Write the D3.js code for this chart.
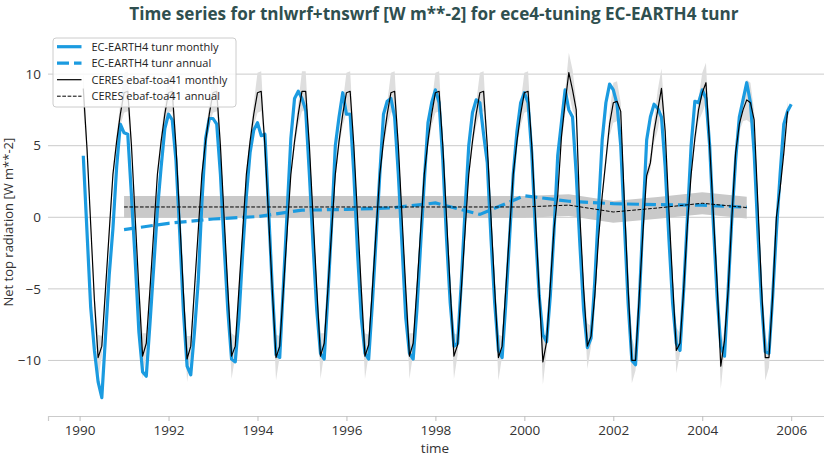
<!DOCTYPE html>
<html>
<head>
<meta charset="utf-8">
<script src="https://cdn.jsdelivr.net/npm/d3@7"></script>
<style>
  body { margin: 0; background: #fff; }
  text { font-family: "Open Sans", "Noto Sans", sans-serif; }
</style>
</head>
<body>
<div id="chart"></div>
<script>
// ---- data ----
const years = [1990, 1991, 1992, 1993, 1994, 1995, 1996, 1997,
               1998, 1999, 2000, 2001, 2002, 2003, 2004, 2005];

// EC-EARTH4 tunr monthly, Jan..Dec for each year
const modelMonthly = [
  [4.3, -1.0, -6.3, -9.3, -11.5, -12.6, -8.3, -4.0, -0.8, 3.5, 6.5, 5.9],
  [5.8, 1.5, -3.0, -8.0, -10.8, -11.1, -7.4, -3.5, 0.5, 3.5, 6.2, 7.2],
  [6.8, 4.0, -1.0, -6.5, -10.4, -11.0, -8.0, -4.5, 1.0, 5.5, 6.9, 6.9],
  [6.5, 3.0, -2.0, -6.5, -9.9, -10.1, -7.0, -2.5, 1.5, 4.5, 6.1, 6.6],
  [5.7, 5.8, 0.5, -5.0, -9.6, -9.8, -4.7, 0.4, 5.5, 8.3, 8.8, 8.3],
  [7.5, 3.0, -2.0, -6.5, -9.5, -9.9, -5.5, -0.5, 5.0, 7.0, 8.7, 7.2],
  [7.2, 3.0, -2.5, -7.0, -9.5, -9.9, -6.0, -1.5, 3.0, 7.2, 8.1, 8.3],
  [7.0, 3.0, -2.0, -7.0, -9.5, -9.9, -6.5, -2.0, 2.5, 6.6, 8.0, 8.9],
  [8.0, 4.0, -1.5, -6.0, -9.0, -8.8, -4.5, 0.5, 5.0, 7.3, 8.2, 8.0],
  [5.8, 3.8, -1.5, -6.0, -9.3, -9.8, -6.0, -1.5, 3.0, 6.0, 8.0, 8.7],
  [8.0, 4.5, -1.0, -5.5, -8.2, -8.7, -5.5, -1.0, 4.3, 6.6, 8.9, 7.5],
  [7.0, 3.0, -2.0, -6.5, -9.1, -8.45, -4.5, 0.5, 5.4, 8.0, 9.3, 8.9],
  [7.9, 5.0, -0.5, -6.0, -10.0, -10.3, -6.0, 0.0, 5.4, 7.0, 7.9, 7.6],
  [7.0, 3.5, -1.5, -6.0, -8.8, -9.3, -5.0, 0.0, 5.0, 8.1, 8.0, 8.9],
  [8.3, 5.0, -0.5, -5.5, -9.0, -9.7, -5.0, 0.0, 4.0, 7.0, 8.2, 9.4],
  [8.0, 4.5, -1.0, -6.0, -9.4, -9.5, -5.5, -1.0, 3.0, 6.5, 7.4, 7.9]
];

// CERES ebaf-toa41 monthly, Jan..Dec (last year ends in Nov)
const ceresMonthly = [
  [9.0, 4.8, -0.5, -5.8, -9.8, -9.0, -5.0, -1.0, 3.0, 5.3, 7.2, 8.7],
  [8.8, 5.0, 0.0, -5.0, -9.7, -8.8, -5.0, -1.0, 3.0, 5.3, 7.2, 8.7],
  [8.8, 5.0, 0.0, -5.2, -9.9, -9.0, -5.0, -1.0, 3.0, 5.3, 7.2, 8.7],
  [8.8, 5.0, 0.0, -5.0, -9.7, -9.0, -5.0, -1.0, 3.0, 5.3, 7.2, 8.7],
  [8.8, 5.0, 0.0, -5.1, -9.8, -9.0, -5.0, -1.0, 3.0, 5.3, 7.2, 8.8],
  [8.8, 5.0, 0.0, -5.0, -9.7, -8.8, -5.0, -1.0, 3.0, 5.3, 7.2, 8.7],
  [8.8, 5.0, 0.0, -5.0, -9.7, -8.9, -5.0, -1.0, 3.0, 5.3, 7.2, 8.7],
  [8.8, 5.0, 0.0, -5.0, -9.7, -8.8, -5.0, -1.0, 3.0, 5.3, 7.2, 8.7],
  [8.8, 5.0, 0.0, -5.0, -9.7, -8.9, -5.0, -1.0, 3.0, 5.3, 7.2, 8.7],
  [8.8, 5.0, 0.0, -5.0, -9.8, -9.0, -5.0, -1.0, 3.0, 5.3, 7.2, 8.7],
  [8.8, 5.0, 0.0, -5.2, -10.1, -8.7, -4.8, -0.8, 1.5, 5.6, 8.0, 10.1],
  [8.9, 7.5, 0.0, -5.0, -9.0, -8.3, -5.5, -1.5, 1.5, 4.0, 6.5, 8.0],
  [8.1, 7.4, 1.0, -5.0, -10.0, -10.0, -5.5, -1.0, 2.9, 3.8, 6.0, 7.5],
  [9.0, 6.0, 0.5, -4.5, -9.3, -8.8, -5.0, -0.5, 3.0, 5.5, 7.5, 8.7],
  [9.4, 5.0, 0.2, -4.6, -10.4, -8.6, -5.0, 0.0, 4.5, 6.5, 7.5, 8.2],
  [8.0, 6.8, 1.0, -5.0, -9.8, -9.8, -5.5, 0.0, 2.0, 4.5, 7.4]
];
// half width of the light grey CERES monthly band, by calendar month
const ceresSpread = [1.4, 0.6, 0.4, 0.6, 1.6, 0.7, 0.5, 0.4, 0.4, 0.5, 0.8, 1.4];

// annual means, plotted at the end of each year
const annualYears = [1990, 1991, 1992, 1993, 1994, 1995, 1996, 1997,
                     1998, 1999, 2000, 2001, 2002, 2003, 2004];
const modelAnnual = [-0.86, -0.42, -0.12, 0.05, 0.5, 0.55, 0.65, 1.0,
                     0.2, 1.5, 1.12, 0.95, 0.88, 0.84, 0.7];
const ceresAnnual = [0.72, 0.72, 0.72, 0.72, 0.72, 0.72, 0.72, 0.72,
                     0.72, 0.72, 0.85, 0.37, 0.65, 0.98, 0.68];
const ceresAnnualSpread = 0.76;

const yTicks = [-10, -5, 0, 5, 10];
const xTicks = [1990, 1992, 1994, 1996, 1998, 2000, 2002, 2004, 2006];

const legendItems = [
  {label: 'EC-EARTH4 tunr monthly', color: '#1b9be0', width: 3.2, dash: null},
  {label: 'EC-EARTH4 tunr annual', color: '#1b9be0', width: 3.2, dash: '12,5'},
  {label: 'CERES ebaf-toa41 monthly', color: '#000', width: 1.2, dash: null},
  {label: 'CERES ebaf-toa41 annual', color: '#000', width: 1, dash: '3.7,1.6'}
];

// ---- layout ----
const width = 824, height = 457;
const plotLeft = 48, plotRight = 826.8, plotTop = 28.3, plotBottom = 416;

const svg = d3.select('#chart')
  .append('svg')
  .attr('width', width)
  .attr('height', height);

const x = d3.scaleLinear().domain([1989.29, 2006.8]).range([plotLeft, plotRight]);
const y = d3.scaleLinear().domain([-13.88, 13.2]).range([plotBottom, plotTop]);

// month-end time stamps
function toSeries(rows) {
  return rows.flatMap((row, i) => row.map((v, m) => ({t: years[i] + (m + 1) / 12, v: v, m: m})));
}
const model = toSeries(modelMonthly);
const ceres = toSeries(ceresMonthly);
const modelAnn = annualYears.map((yr, i) => ({t: yr + 1, v: modelAnnual[i]}));
const ceresAnn = annualYears.map((yr, i) => ({t: yr + 1, v: ceresAnnual[i]}));

svg.append('clipPath').attr('id', 'clip')
  .append('rect')
  .attr('x', plotLeft).attr('y', plotTop)
  .attr('width', plotRight - plotLeft).attr('height', plotBottom - plotTop);

// grid lines
svg.append('g')
  .selectAll('line')
  .data(yTicks)
  .enter()
  .append('line')
  .attr('x1', plotLeft).attr('x2', plotRight)
  .attr('y1', d => y(d)).attr('y2', d => y(d))
  .attr('stroke', '#cbcbcb')
  .attr('stroke-width', 1);

const plot = svg.append('g').attr('clip-path', 'url(#clip)');

const line = d3.line().x(d => x(d.t)).y(d => y(d.v));

// bands
plot.append('path')
  .datum(ceres)
  .attr('d', d3.area()
    .x(d => x(d.t))
    .y0(d => y(d.v - ceresSpread[d.m]))
    .y1(d => y(d.v + ceresSpread[d.m])))
  .attr('fill', '#dedede');

plot.append('path')
  .datum(ceresAnn)
  .attr('d', d3.area()
    .x(d => x(d.t))
    .y0(d => y(d.v - ceresAnnualSpread))
    .y1(d => y(d.v + ceresAnnualSpread)))
  .attr('fill', '#c9c9c9');

// model lines
plot.append('path')
  .datum(model)
  .attr('d', line)
  .attr('fill', 'none')
  .attr('stroke', legendItems[0].color)
  .attr('stroke-width', legendItems[0].width)
  .attr('stroke-linejoin', 'round');

plot.append('path')
  .datum(modelAnn)
  .attr('d', line)
  .attr('fill', 'none')
  .attr('stroke', legendItems[1].color)
  .attr('stroke-width', legendItems[1].width)
  .attr('stroke-dasharray', legendItems[1].dash);

// CERES lines
plot.append('path')
  .datum(ceres)
  .attr('d', line)
  .attr('fill', 'none')
  .attr('stroke', legendItems[2].color)
  .attr('stroke-width', legendItems[2].width)
  .attr('stroke-linejoin', 'round');

plot.append('path')
  .datum(ceresAnn)
  .attr('d', line)
  .attr('fill', 'none')
  .attr('stroke', legendItems[3].color)
  .attr('stroke-width', legendItems[3].width)
  .attr('stroke-dasharray', legendItems[3].dash);

// bottom axis
const xAxis = svg.append('g')
  .attr('transform', `translate(0,${plotBottom})`)
  .call(d3.axisBottom(x).tickValues(xTicks).tickFormat(d3.format('d')).tickSize(5).tickPadding(4));
xAxis.select('.domain').attr('stroke', '#cbcbcb').attr('stroke-width', 1.2);
xAxis.selectAll('.tick line').attr('stroke', '#bdbdbd');
xAxis.selectAll('.tick text')
  .attr('fill', '#333')
  .style('font-size', '13.5px')
  .style('font-family', '"Open Sans", sans-serif');

// left tick labels (no spine)
svg.append('g')
  .selectAll('text')
  .data(yTicks)
  .enter()
  .append('text')
  .attr('x', 41)
  .attr('y', d => y(d))
  .attr('dy', '0.35em')
  .attr('text-anchor', 'end')
  .attr('fill', '#333')
  .style('font-size', '13.5px')
  .text(d => d3.format('d')(d));

// axis titles
svg.append('text')
  .attr('x', (plotLeft + 822) / 2)
  .attr('y', 453)
  .attr('text-anchor', 'middle')
  .attr('fill', '#333')
  .style('font-size', '13.5px')
  .text('time');

svg.append('text')
  .attr('transform', `translate(13,${(plotTop + plotBottom) / 2}) rotate(-90)`)
  .attr('text-anchor', 'middle')
  .attr('fill', '#333')
  .style('font-size', '13px')
  .text('Net top radiation [W m**-2]');

// title, sized to the reference width
const title = svg.append('text')
  .attr('x', 434)
  .attr('y', 20)
  .attr('text-anchor', 'middle')
  .attr('fill', '#2f4f4f')
  .style('font-size', '16px')
  .style('font-weight', 'bold')
  .text('Time series for tnlwrf+tnswrf [W m**-2] for ece4-tuning EC-EARTH4 tunr');
const tw = title.node().getComputedTextLength();
title.style('font-size', (16 * 610 / tw).toFixed(2) + 'px');

// legend
const legend = svg.append('g').attr('transform', 'translate(53,38)');
legend.append('rect')
  .attr('width', 183).attr('height', 69)
  .attr('rx', 3)
  .attr('fill', 'white').attr('fill-opacity', 0.8)
  .attr('stroke', '#cccccc');
legendItems.forEach(function(item, i) {
  const cy = 8.7 + i * 16.5;
  legend.append('line')
    .attr('x1', 4).attr('x2', 28.5)
    .attr('y1', cy).attr('y2', cy)
    .attr('stroke', item.color)
    .attr('stroke-width', item.width)
    .attr('stroke-dasharray', item.dash);
  legend.append('text')
    .attr('x', 38.5)
    .attr('y', cy)
    .attr('dy', '0.35em')
    .attr('fill', '#222')
    .style('font-size', '11px')
    .text(item.label);
});
</script>
</body>
</html>
